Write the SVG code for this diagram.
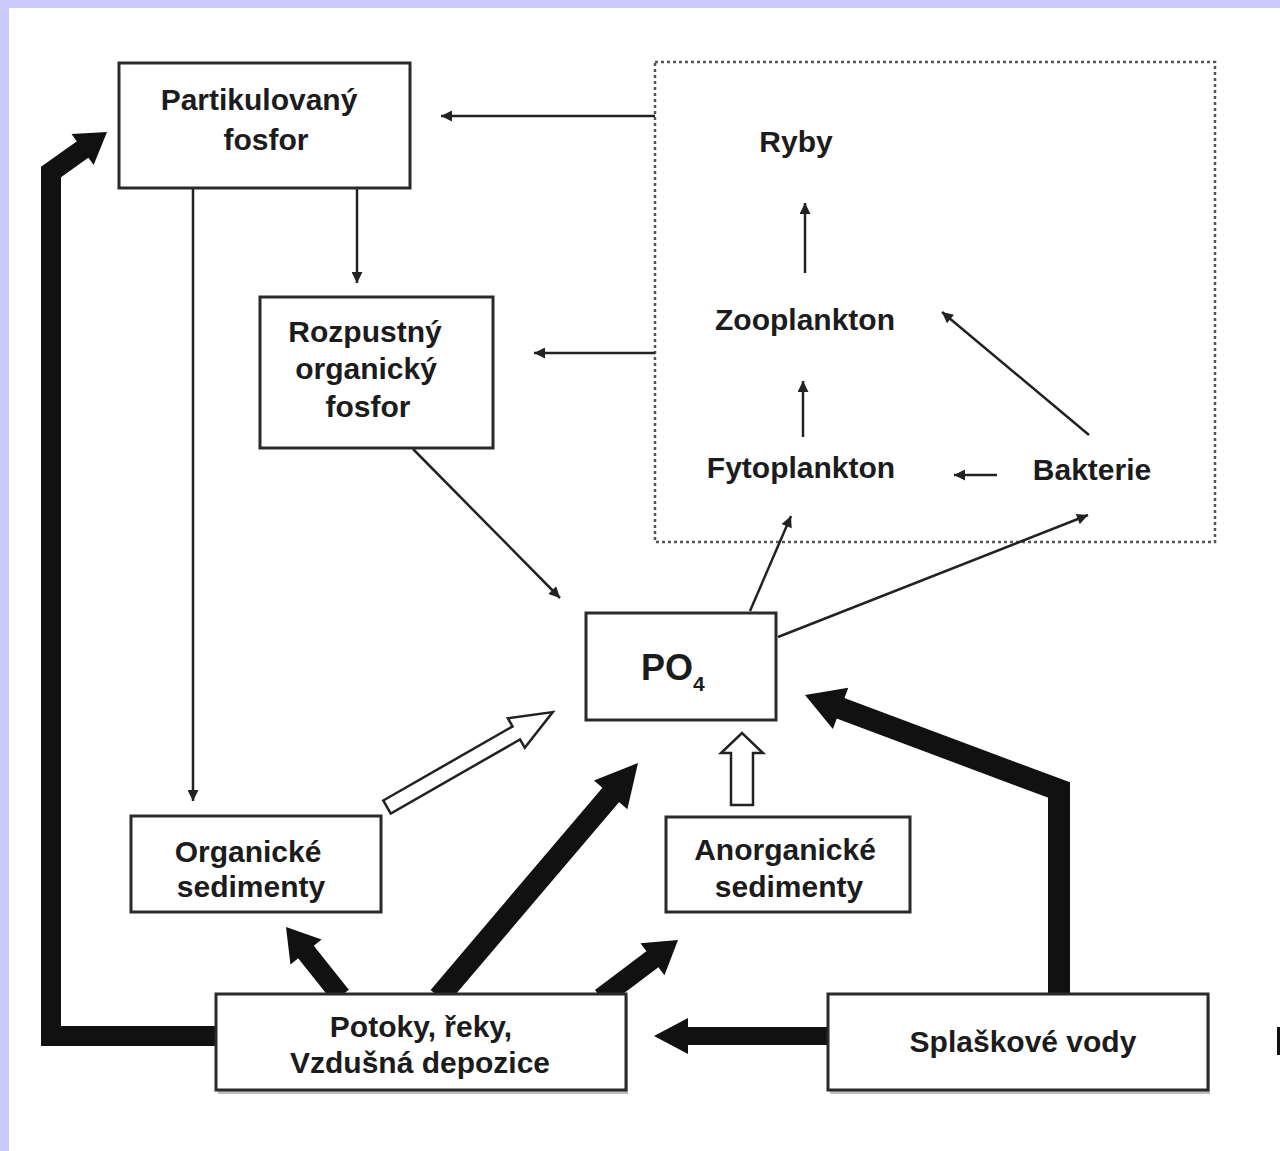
<svg xmlns="http://www.w3.org/2000/svg" width="1280" height="1151" viewBox="0 0 1280 1151">
  <style>
    .box { fill: #ffffff; stroke: #2a2a2a; stroke-width: 3; }
    .lbl { font-family: "Liberation Sans", Arial, sans-serif; font-weight: bold; font-size: 30px; fill: #1c1c1c; text-anchor: middle; }
    .thin { stroke: #222222; stroke-width: 2.5; fill: none; marker-end: url(#tip); }
    .heavy { stroke: #111111; fill: none; stroke-linejoin: miter; stroke-linecap: butt; }
    .head { fill: #111111; }
    .hollow { fill: #ffffff; stroke: #222222; stroke-width: 2.5; stroke-linejoin: miter; }
  </style>
  <defs>
    <marker id="tip" viewBox="0 0 10 10" refX="10" refY="5" markerWidth="14" markerHeight="11" markerUnits="userSpaceOnUse" orient="auto">
      <path d="M0,0 L10,5 L0,10 z" fill="#222222"/>
    </marker>
  </defs>

  <!-- page background and frame bands -->
  <rect x="0" y="0" width="1280" height="1151" fill="#ffffff"/>
  <rect x="0" y="0" width="1280" height="8" fill="#c9c9fa"/>
  <rect x="0" y="0" width="9" height="1151" fill="#c9c9fa"/>
  <rect x="1277" y="1027" width="3" height="28" fill="#111111"/>

  <!-- food-web area (dotted frame) -->
  <g id="plankton-area">
    <rect x="655" y="62" width="560" height="480" fill="none" stroke="#555555" stroke-width="2.5" stroke-dasharray="3,3"/>
  </g>

  <g id="connectors">
    <!-- thin flows -->
    <line class="thin" x1="655" y1="116" x2="441" y2="116"/>
    <line class="thin" x1="655" y1="353" x2="534" y2="353"/>
    <line class="thin" x1="357" y1="188" x2="357" y2="283"/>
    <line class="thin" x1="193" y1="188" x2="193" y2="801"/>
    <line class="thin" x1="413" y1="449" x2="560" y2="598"/>
    <line class="thin" x1="750" y1="611" x2="791" y2="516"/>
    <line class="thin" x1="778" y1="637" x2="1088" y2="515"/>
    <line class="thin" x1="805" y1="273" x2="805" y2="203"/>
    <line class="thin" x1="803" y1="437" x2="803" y2="381"/>
    <line class="thin" x1="1089" y1="435" x2="942" y2="312"/>
    <line class="thin" x1="997" y1="475" x2="954" y2="475"/>

    <!-- heavy flows -->
    <line class="heavy" stroke-width="20" x1="341" y1="996" x2="301.6" y2="946.5"/>
    <polygon class="head" transform="translate(286,927) rotate(-128.8)" points="0,0 -32,-20 -32,20"/>

    <line class="heavy" stroke-width="22" x1="439" y1="997" x2="617.2" y2="787.3"/>
    <polygon class="head" transform="translate(638,763) rotate(-49.4)" points="0,0 -42,-22 -42,22"/>

    <line class="heavy" stroke-width="20" x1="601" y1="998" x2="658" y2="955"/>
    <polygon class="head" transform="translate(678,940) rotate(-37)" points="0,0 -32,-20 -32,20"/>

    <line class="heavy" stroke-width="18" x1="830" y1="1036" x2="680" y2="1036"/>
    <polygon class="head" points="654,1036 688,1018 688,1054"/>

    <path class="heavy" stroke-width="22" d="M1059,996 L1059,790 L833.1,705.5"/>
    <polygon class="head" transform="translate(805,695) rotate(-159.5)" points="0,0 -38,-22 -38,22"/>

    <path class="heavy" stroke-width="20" d="M218,1036 L51,1036 L51,172 L89.1,144.8"/>
    <polygon class="head" transform="translate(107,132) rotate(-35.5)" points="0,0 -30,-19 -30,19"/>

    <!-- hollow flows from sediments -->
    <polygon class="hollow" transform="translate(387,807) rotate(-29.8)" points="0,-7.5 149,-7.5 149,-17 191,0 149,17 149,7.5 0,7.5"/>
    <polygon class="hollow" points="731,805 731,753 721,753 742,733 763,753 753,753 753,805"/>
  </g>

  <g id="node-partikulovany">
    <rect class="box" x="119" y="63" width="291" height="125"/>
    <text class="lbl" x="259" y="110">Partikulovaný</text>
    <text class="lbl" x="266" y="150">fosfor</text>
  </g>

  <g id="node-rozpustny">
    <rect class="box" x="260" y="297" width="233" height="151"/>
    <text class="lbl" x="365" y="342">Rozpustný</text>
    <text class="lbl" x="366" y="379">organický</text>
    <text class="lbl" x="368" y="417">fosfor</text>
  </g>

  <g id="node-ryby">
    <text class="lbl" x="796" y="152">Ryby</text>
  </g>
  <g id="node-zooplankton">
    <text class="lbl" x="805" y="330">Zooplankton</text>
  </g>
  <g id="node-fytoplankton">
    <text class="lbl" x="801" y="478">Fytoplankton</text>
  </g>
  <g id="node-bakterie">
    <text class="lbl" x="1092" y="480">Bakterie</text>
  </g>

  <g id="node-po4">
    <rect class="box" x="586" y="613" width="190" height="107"/>
    <text x="641" y="680" font-family="Liberation Sans, Arial, sans-serif" font-weight="bold" font-size="36" fill="#1c1c1c">PO<tspan font-size="21" dy="11">4</tspan></text>
  </g>

  <g id="node-organicke">
    <rect class="box" x="131" y="816" width="250" height="96"/>
    <text class="lbl" x="248" y="862">Organické</text>
    <text class="lbl" x="251" y="897">sedimenty</text>
  </g>

  <g id="node-anorganicke">
    <rect class="box" x="666" y="817" width="244" height="95"/>
    <text class="lbl" x="785" y="860">Anorganické</text>
    <text class="lbl" x="789" y="897">sedimenty</text>
  </g>

  <g id="node-potoky">
    <rect x="218" y="997" width="410" height="97" fill="#bdbdbd"/>
    <rect class="box" x="216" y="994" width="410" height="96"/>
    <text class="lbl" x="421" y="1037">Potoky, řeky,</text>
    <text class="lbl" x="420" y="1073">Vzdušná depozice</text>
  </g>

  <g id="node-splaskove">
    <rect x="830" y="997" width="380" height="97" fill="#bdbdbd"/>
    <rect class="box" x="828" y="994" width="380" height="96"/>
    <text class="lbl" x="1023" y="1052">Splaškové vody</text>
  </g>
</svg>
